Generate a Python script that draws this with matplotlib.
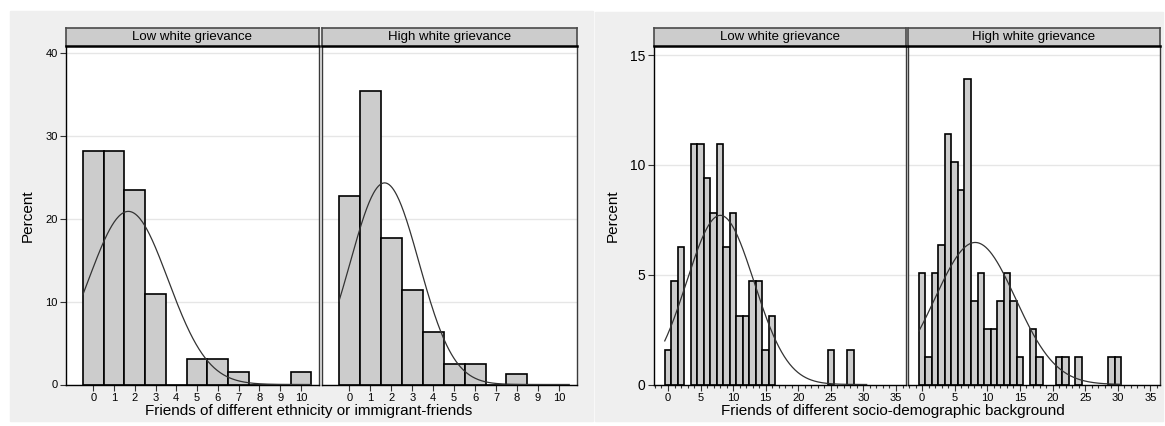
import numpy as np
import matplotlib.pyplot as plt
from matplotlib.patches import Rectangle

plt.rcParams['font.family'] = ['Liberation Sans', 'DejaVu Sans']

W, H = 1165, 426

# --- data (percent of respondents per value) ---
panel_titles = ['Low white grievance', 'High white grievance']

eth_x = list(range(0, 11))
eth_low = [28.13, 28.13, 23.44, 10.94, 0, 3.13, 3.13, 1.56, 0, 0, 1.56]
eth_high = [22.78, 35.44, 17.72, 11.39, 6.33, 2.53, 2.53, 0, 1.27, 0, 0]

socio_low_x = [0, 1, 2, 4, 5, 6, 7, 8, 9, 10, 11, 12, 13, 14, 15, 16, 25, 28]
socio_low = [1.56, 4.69, 6.25, 10.94, 10.94, 9.38, 7.81, 10.94, 6.25, 7.81,
             3.13, 3.13, 4.69, 4.69, 1.56, 3.13, 1.56, 1.56]
socio_high_x = [0, 1, 2, 3, 4, 5, 6, 7, 8, 9, 10, 11, 12, 13, 14, 15, 17, 18,
                21, 22, 24, 29, 30]
socio_high = [5.06, 1.27, 5.06, 6.33, 11.39, 10.13, 8.86, 13.92, 3.80, 5.06,
              2.53, 2.53, 3.80, 5.06, 3.80, 1.27, 2.53, 1.27, 1.27, 1.27,
              1.27, 1.27, 1.27]

# normal overlay (mean, sd) per panel, and range of the curve
eth_fit = [(1.69, 1.91), (1.68, 1.64)]
eth_range = (-0.5, 10.5)
socio_fit = [(8.03, 5.18), (8.15, 6.17)]
socio_range = (-0.5, 30.5)


def px_axes(fig, x0, y0, x1, y1):
    # pixel box (top-left origin) -> figure axes
    return fig.add_axes([x0 / W, 1 - y1 / H, (x1 - x0) / W, (y1 - y0) / H])


def strip(fig, x0, x1, title):
    sa = px_axes(fig, x0, 28, x1, 46)
    sa.set_facecolor('#cccccc')
    sa.set_xticks([])
    sa.set_yticks([])
    for s in sa.spines.values():
        s.set_color('#4a4a4a')
        s.set_linewidth(1.2)
    sa.spines['bottom'].set_color('black')
    sa.spines['bottom'].set_linewidth(1.8)
    sa.text(0.5, 0.5, title, ha='center', va='center', fontsize=9.5,
            transform=sa.transAxes)


def panel(fig, x0, x1, xs, ys, fit, rng, xlim, ylim, yticks, xticks,
          first, ytick_fs, xtick_fs, minor=False):
    ax = px_axes(fig, x0, 46, x1, 384.5)
    ax.set_xlim(*xlim)
    ax.set_ylim(*ylim)
    for yv in yticks:
        ax.axhline(yv, color='#e6e6e6', lw=1, zorder=0)
    ax.bar(xs, ys, width=1, color='#cccccc', edgecolor='black', lw=1.2,
           zorder=2)
    mu, sd = fit
    xx = np.linspace(rng[0], rng[1], 300)
    yy = 100 / (sd * np.sqrt(2 * np.pi)) * np.exp(-(xx - mu) ** 2 / (2 * sd ** 2))
    ax.plot(xx, yy, color='#333333', lw=0.9, zorder=3)
    for s in ax.spines.values():
        s.set_color('#3a3a3a')
        s.set_linewidth(1.0)
    ax.spines['top'].set_visible(False)
    ax.spines['bottom'].set_color('black')
    ax.set_xticks(xticks)
    ax.tick_params(axis='x', length=4, width=0.8, labelsize=xtick_fs,
                   pad=2, color='#333333')
    if minor:
        ax.set_xticks(range(int(np.ceil(xlim[0])), int(xlim[1]) + 1), minor=True)
        ax.tick_params(axis='x', which='minor', length=2.5, width=0.8,
                       color='#333333')
    ax.set_yticks(yticks)
    if first:
        ax.spines['left'].set_color('black')
        ax.tick_params(axis='y', length=4, width=0.8, labelsize=ytick_fs,
                       pad=2, color='#333333')
    else:
        ax.tick_params(axis='y', length=0, labelleft=False)
    return ax


fig = plt.figure(figsize=(W / 100, H / 100), dpi=100)
fig.patch.set_facecolor('white')
fig.add_artist(Rectangle((10 / W, 1 - 421 / H), 583 / W, 410 / H,
                         transform=fig.transFigure, color='#efefef', zorder=-5))
fig.add_artist(Rectangle((595 / W, 1 - 421 / H), 568 / W, 409 / H,
                         transform=fig.transFigure, color='#efefef', zorder=-5))

# left chart: ethnicity
eth_xlim = (-1.31, 10.87)
eth_ylim = (0, 40.84)
for i, (x0, x1, ys) in enumerate([(66, 319, eth_low), (322, 577, eth_high)]):
    panel(fig, x0, x1, eth_x, ys, eth_fit[i], eth_range, eth_xlim, eth_ylim,
          [0, 10, 20, 30, 40], list(range(0, 11)), i == 0, 8, 8)
    strip(fig, x0, x1, panel_titles[i])

# right chart: socio-demographic
soc_xlim = (-2.15, 36.46)
soc_ylim = (0, 15.41)
soc_data = [(654, 905.5, socio_low_x, socio_low),
            (908, 1160, socio_high_x, socio_high)]
for i, (x0, x1, xs, ys) in enumerate(soc_data):
    panel(fig, x0, x1, xs, ys, socio_fit[i], socio_range, soc_xlim, soc_ylim,
          [0, 5, 10, 15], list(range(0, 36, 5)), i == 0, 10, 8, minor=True)
    strip(fig, x0, x1, panel_titles[i])

fig.text(309 / W, 1 - 411 / H, 'Friends of different ethnicity or immigrant-friends',
         ha='center', va='center', fontsize=11)
fig.text(893 / W, 1 - 411 / H, 'Friends of different socio-demographic background',
         ha='center', va='center', fontsize=11)
fig.text(28 / W, 1 - 216 / H, 'Percent', rotation=90, ha='center', va='center',
         fontsize=11)
fig.text(613 / W, 1 - 216 / H, 'Percent', rotation=90, ha='center', va='center',
         fontsize=11)

fig.savefig('out.png', dpi=100, facecolor=fig.get_facecolor())
